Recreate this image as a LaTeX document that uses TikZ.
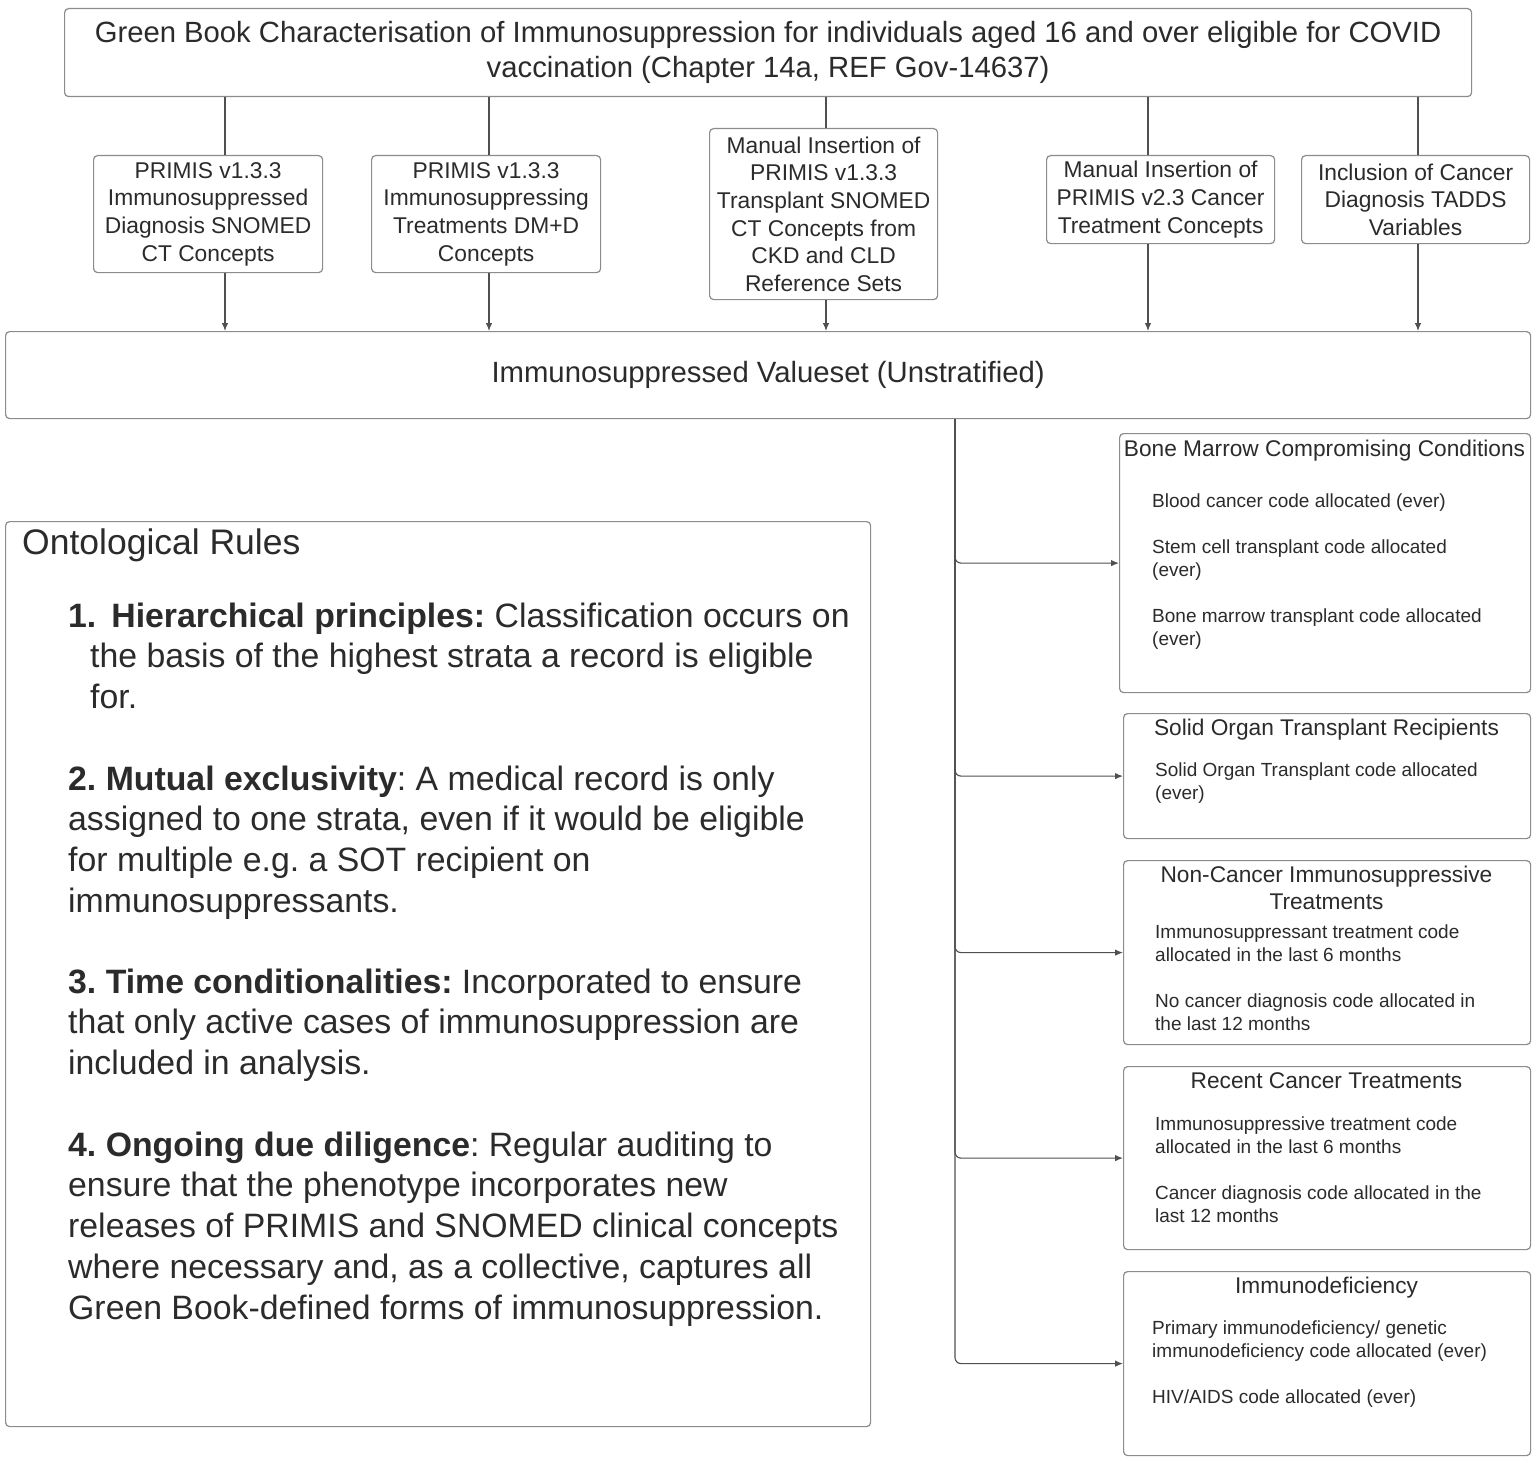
\documentclass[tikz,border=0pt]{standalone}
\usepackage{fontspec}
\setmainfont{Liberation Sans}
\usetikzlibrary{arrows.meta}
\definecolor{txt}{HTML}{2B2B2B}
\definecolor{bord}{HTML}{8C8C8C}
\definecolor{wire}{HTML}{505050}
\frenchspacing
\begin{document}
\begin{tikzpicture}[x=1pt,y=-1pt,
  box/.style={draw=bord,line width=1.2pt,rounded corners=4pt,inner sep=0pt,anchor=north west,text=txt,align=center},
  small/.style={box,font=\fontsize{22.8}{27.6}\selectfont},
  wirec/.style={draw=wire,line width=1.1pt},
  arr/.style={wirec,-{Latex[length=8pt,width=6.5pt]}},
  ttl/.style={font=\fontsize{22.7}{27}\selectfont,text=txt,anchor=base,align=center,inner sep=0pt},
  itm/.style={font=\fontsize{19}{23}\selectfont,text=txt,anchor=base west,align=left,inner sep=0pt},
  rule/.style={font=\fontsize{33.8}{40.8}\selectfont,text=txt,anchor=base west,align=left,inner sep=0pt}]
\fill[white] (0,0) rectangle (1535,1461);
\useasboundingbox (0,0) rectangle (1535,1461);

% top box
\node[box,minimum width=1407pt,minimum height=88pt,font=\fontsize{29.26}{35}\selectfont] (top) at (64,8)
  {Green Book Characterisation of Immunosuppression for individuals aged 16 and over eligible for COVID\\vaccination (Chapter 14a, REF Gov-14637)};

% source boxes
\node[small,minimum width=229pt,minimum height=117pt] (b1) at (93,155)
  {PRIMIS v1.3.3\\Immunosuppressed\\Diagnosis SNOMED\\CT Concepts};
\node[small,minimum width=229pt,minimum height=117pt] (b2) at (371,155)
  {PRIMIS v1.3.3\\Immunosuppressing\\Treatments DM+D\\Concepts};
\node[small,minimum width=228pt,minimum height=171pt] (b3) at (709,128)
  {Manual Insertion of\\PRIMIS v1.3.3\\Transplant SNOMED\\CT Concepts from\\CKD and CLD\\Reference Sets};
\node[small,minimum width=228pt,minimum height=88pt] (b4) at (1046,155)
  {Manual Insertion of\\PRIMIS v2.3 Cancer\\Treatment Concepts};
\node[small,minimum width=228pt,minimum height=88pt] (b5) at (1301,155)
  {Inclusion of Cancer\\Diagnosis TADDS\\Variables};

% valueset
\node[box,minimum width=1525pt,minimum height=87pt,font=\fontsize{29.3}{34}\selectfont] (val) at (5,331)
  {Immunosuppressed Valueset (Unstratified)};

% connectors top
\coordinate (cx1) at (225,0);
\coordinate (cx2) at (489,0);
\coordinate (cx3) at (826,0);
\coordinate (cx4) at (1148,0);
\coordinate (cx5) at (1418,0);
\foreach \b/\c in {b1/cx1,b2/cx2,b3/cx3,b4/cx4,b5/cx5}{
  \draw[wirec] (top.south -| \c) -- (\b.north -| \c);
  \draw[arr] (\b.south -| \c) -- (val.north -| \c);
}

% right boxes
\node[box,minimum width=411pt,minimum height=259pt] (r1) at (1119,433) {};
\node[box,minimum width=407pt,minimum height=125pt] (r2) at (1123,713) {};
\node[box,minimum width=407pt,minimum height=184pt] (r3) at (1123,860) {};
\node[box,minimum width=407pt,minimum height=183pt] (r4) at (1123,1066) {};
\node[box,minimum width=407pt,minimum height=184pt] (r5) at (1123,1271) {};

\node[ttl] (r1t) at (1324.5,456) {Bone Marrow Compromising Conditions};
\node[itm] (r1a) at (1152,507) {Blood cancer code allocated (ever)};
\node[itm] (r1b) at (1152,576) {Stem cell transplant code allocated\\(ever)};
\node[itm] (r1c) at (1152,645) {Bone marrow transplant code allocated\\(ever)};

\node[ttl] (r2t) at (1326.5,735) {Solid Organ Transplant Recipients};
\node[itm] (r2a) at (1155,799) {Solid Organ Transplant code allocated\\(ever)};

\node[ttl] (r3t) at (1326.5,909) {Non-Cancer Immunosuppressive\\Treatments};
\node[itm] (r3a) at (1155,961) {Immunosuppressant treatment code\\allocated in the last 6 months};
\node[itm] (r3b) at (1155,1030) {No cancer diagnosis code allocated in\\the last 12 months};

\node[ttl] (r4t) at (1326.5,1088) {Recent Cancer Treatments};
\node[itm] (r4a) at (1155,1153) {Immunosuppressive treatment code\\allocated in the last 6 months};
\node[itm] (r4b) at (1155,1222) {Cancer diagnosis code allocated in the\\last 12 months};

\node[ttl] (r5t) at (1326.5,1293) {Immunodeficiency};
\node[itm] (r5a) at (1152,1357) {Primary immunodeficiency/ genetic\\immunodeficiency code allocated (ever)};
\node[itm] (r5b) at (1152,1403) {HIV/AIDS code allocated (ever)};

% trunk
\coordinate (tk) at (955,0);
\foreach \r in {r1,r2,r3,r4,r5}{
  \draw[arr,rounded corners=6pt] (val.south -| tk) |- (\r.west);
}

% ontological rules
\node[box,minimum width=865pt,minimum height=905pt] (rules) at (5,521) {};
\node[text=txt,anchor=base west,inner sep=0pt,font=\fontsize{35.5}{42}\selectfont] (rt) at (22,554.5) {Ontological Rules};
\node[rule] (p1) at (68,708.6) {\textbf{1.}\hspace{15pt}\textbf{Hierarchical principles:} Classification occurs on\\\hspace*{22pt}the basis of the highest strata a record is eligible\\\hspace*{22pt}for.};
\node[rule] (p2) at (68,912.4) {\textbf{2. Mutual exclusivity}: A medical record is only\\assigned to one strata, even if it would be eligible\\for multiple e.g. a SOT recipient on\\immunosuppressants.};
\node[rule] (p3) at (68,1074.6) {\textbf{3. Time conditionalities:} Incorporated to ensure\\that only active cases of immunosuppression are\\included in analysis.};
\node[rule] (p4) at (68,1319.2) {\textbf{4. Ongoing due diligence}: Regular auditing to\\ensure that the phenotype incorporates new\\releases of PRIMIS and SNOMED clinical concepts\\where necessary and, as a collective, captures all\\Green Book-defined forms of immunosuppression.};
\end{tikzpicture}
\end{document}
